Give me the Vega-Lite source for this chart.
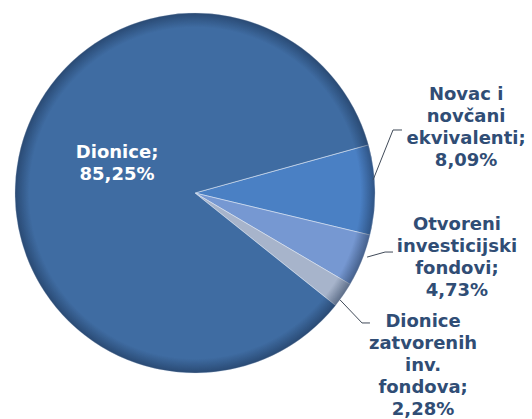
{
  "$schema": "https://vega.github.io/schema/vega-lite/v6.json",
  "width": 390,
  "height": 386,
  "padding": 0,
  "background": "white",
  "config": {"view": {"stroke": null}},
  "datasets": {
    "slices": [
      {"kategorija": "Novac i novčani ekvivalenti", "udio": 8.09, "ord": 1},
      {"kategorija": "Otvoreni investicijski fondovi", "udio": 4.73, "ord": 2},
      {"kategorija": "Dionice zatvorenih inv. fondova", "udio": 2.28, "ord": 3},
      {"kategorija": "Dionice", "udio": 85.25, "ord": 4}
    ],
    "labels": [
      {"kategorija": "Dionice", "tekst": "Dionice;\n85,25%", "u": -0.433, "v": 0.222, "boja": "white"},
      {"kategorija": "Novac i novčani ekvivalenti", "tekst": "Novac i\nnovčani\nekvivalenti;\n8,09%", "u": 1.506, "v": 0.544, "boja": "dark"},
      {"kategorija": "Otvoreni investicijski fondovi", "tekst": "Otvoreni\ninvesticijski\nfondovi;\n4,73%", "u": 1.455, "v": -0.178, "boja": "dark"},
      {"kategorija": "Dionice zatvorenih inv. fondova", "tekst": "Dionice\nzatvorenih\ninv.\nfondova;\n2,28%", "u": 1.267, "v": -0.717, "boja": "dark"}
    ],
    "leaders": [
      {"leader": "Novac", "pt": 1, "u": 0.989, "v": 0.072},
      {"leader": "Novac", "pt": 2, "u": 1.1, "v": 0.35},
      {"leader": "Novac", "pt": 3, "u": 1.15, "v": 0.35},
      {"leader": "Otvoreni", "pt": 1, "u": 0.956, "v": -0.356},
      {"leader": "Otvoreni", "pt": 2, "u": 1.056, "v": -0.328},
      {"leader": "Otvoreni", "pt": 3, "u": 1.1, "v": -0.328},
      {"leader": "Zatvoreni", "pt": 1, "u": 0.806, "v": -0.594},
      {"leader": "Zatvoreni", "pt": 2, "u": 0.928, "v": -0.722},
      {"leader": "Zatvoreni", "pt": 3, "u": 0.972, "v": -0.722}
    ],
    "ring": [{"k": 1}]
  },
  "layer": [
    {
      "data": {"name": "slices"},
      "mark": {"type": "arc", "radius": 180, "stroke": "#dfe8f5", "strokeWidth": 0.8, "strokeOpacity": 0.7},
      "encoding": {
        "theta": {"field": "udio", "type": "quantitative", "stack": true, "scale": {"range": [1.3, 7.5832]}},
        "order": {"field": "ord", "type": "quantitative"},
        "color": {
          "field": "kategorija", "type": "nominal", "legend": null,
          "scale": {
            "domain": ["Dionice", "Novac i novčani ekvivalenti", "Otvoreni investicijski fondovi", "Dionice zatvorenih inv. fondova"],
            "range": ["#3f6ca2", "#4a80c4", "#7698d2", "#a7b4cb"]
          }
        }
      }
    },
    {
      "data": {"name": "ring"},
      "mark": {
        "type": "arc", "radius": 180, "theta": 0, "theta2": 6.2832,
        "fill": {
          "gradient": "radial", "x1": 0.5, "y1": 0.5, "r1": 0, "x2": 0.5, "y2": 0.5, "r2": 0.5,
          "stops": [
            {"offset": 0, "color": "rgba(20,40,70,0)"},
            {"offset": 0.92, "color": "rgba(20,40,70,0)"},
            {"offset": 1, "color": "rgba(20,40,70,0.5)"}
          ]
        }
      },
      "encoding": {}
    },
    {
      "data": {"name": "leaders"},
      "mark": {"type": "line", "color": "#404a58", "strokeWidth": 1},
      "encoding": {
        "x": {"field": "u", "type": "quantitative", "axis": null, "scale": {"domain": [-1.0833, 1.0833], "nice": false, "zero": false}},
        "y": {"field": "v", "type": "quantitative", "axis": null, "scale": {"domain": [-1.0722, 1.0722], "nice": false, "zero": false}},
        "detail": {"field": "leader", "type": "nominal"},
        "order": {"field": "pt", "type": "quantitative"}
      }
    },
    {
      "data": {"name": "labels"},
      "mark": {"type": "text", "font": "DejaVu Sans", "fontWeight": "bold", "fontSize": 18, "lineHeight": 22, "align": "center", "baseline": "middle", "lineBreak": "\n"},
      "encoding": {
        "x": {"field": "u", "type": "quantitative", "axis": null},
        "y": {"field": "v", "type": "quantitative", "axis": null},
        "text": {"field": "tekst", "type": "nominal"},
        "color": {"field": "boja", "type": "nominal", "legend": null, "scale": {"domain": ["white", "dark"], "range": ["#ffffff", "#304d75"]}}
      }
    }
  ],
  "resolve": {"scale": {"color": "independent"}}
}
